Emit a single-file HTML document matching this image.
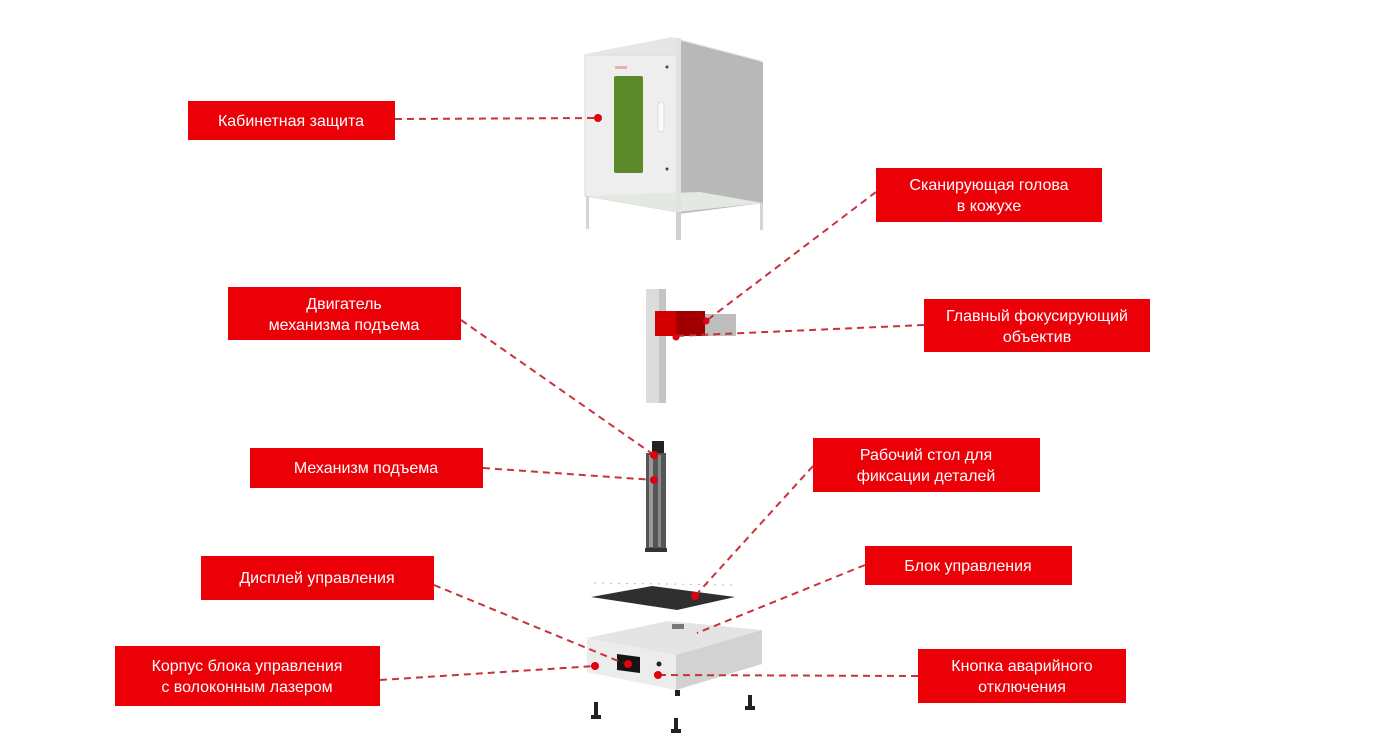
<!DOCTYPE html>
<html><head><meta charset="utf-8"><style>
html,body{margin:0;padding:0;background:#fff;width:1380px;height:755px;overflow:hidden}
svg{display:block}
text{font-family:"Liberation Sans",sans-serif;font-size:16px;fill:#fff;text-anchor:middle}
</style></head><body>
<svg width="1380" height="755" viewBox="0 0 1380 755" xmlns="http://www.w3.org/2000/svg">
<!-- Cabinet -->
<polygon points="585,54 672,37 763,61 678,56" fill="#e6e6e6"/>
<polygon points="678,40 763,62 763,203 678,214" fill="#b8b8b8"/>
<polygon points="585,55 678,55 678,212 585,196" fill="#eeeeee" stroke="#dadada"/>
<polygon points="585,196 678,212 763,203 700,192" fill="#e3e8e1"/>
<rect x="676" y="38" width="5" height="180" fill="#e2e2e2"/>
<rect x="614" y="76" width="29" height="97" rx="2" fill="#5c8a2a"/>
<rect x="658" y="102" width="6" height="30" rx="3" fill="#fafafa" stroke="#ddd"/>
<rect x="615" y="66" width="12" height="3" fill="#e9b0b0"/>
<rect x="586" y="196" width="3" height="33" fill="#d5d5d5"/>
<rect x="760" y="203" width="3" height="27" fill="#d5d5d5"/>
<rect x="676" y="212" width="5" height="28" fill="#d0d0d0"/>
<circle cx="667" cy="67" r="1.5" fill="#444"/><circle cx="667" cy="169" r="1.5" fill="#444"/>
<!-- Column with head -->
<rect x="646" y="289" width="20" height="114" fill="#dcdcdc"/>
<rect x="659" y="289" width="7" height="114" fill="#c4c4c4"/>
<polygon points="655,311 705,311 705,336 655,336" fill="#d40000"/>
<rect x="676" y="311" width="29" height="25" fill="#a00000"/>
<rect x="705" y="314" width="31" height="22" fill="#bdbdbd"/>
<!-- Lift mechanism -->
<rect x="652" y="441" width="12" height="15" fill="#222"/>
<rect x="646" y="453" width="20" height="97" fill="#555"/>
<rect x="649" y="455" width="4" height="92" fill="#999"/>
<rect x="658" y="455" width="3" height="92" fill="#888"/>
<rect x="645" y="548" width="22" height="4" fill="#333"/>
<!-- Table -->
<polygon points="591,597 652,586 735,597 677,610" fill="#2f2f2f"/>
<line x1="594" y1="583" x2="735" y2="585" stroke="#bbb" stroke-dasharray="2,6"/>
<!-- Base -->
<polygon points="587,638 668,621 762,630 676,655" fill="#e4e4e4"/>
<polygon points="587,638 676,655 676,690 587,672" fill="#ececec"/>
<polygon points="676,655 762,630 762,664 676,690" fill="#d2d2d2"/>
<rect x="672" y="624" width="12" height="5" fill="#777"/>
<polygon points="617,654 640,657 640,673 617,670" fill="#151515"/>
<circle cx="659" cy="664" r="2.5" fill="#222"/>
<g fill="#222"><rect x="594" y="702" width="4" height="16"/><rect x="591" y="715" width="10" height="4"/>
<rect x="674" y="718" width="4" height="14"/><rect x="671" y="729" width="10" height="4"/>
<rect x="748" y="695" width="4" height="14"/><rect x="745" y="706" width="10" height="4"/>
<rect x="675" y="690" width="5" height="6"/></g>
<!-- connectors -->
<g stroke="#c8323c" stroke-width="2" stroke-dasharray="7,5" fill="none">
<line x1="395" y1="119" x2="598" y2="118"/>
<line x1="876" y1="192" x2="706" y2="321"/>
<line x1="461" y1="320" x2="654" y2="455"/>
<line x1="924" y1="325" x2="676" y2="336"/>
<line x1="483" y1="468" x2="654" y2="480"/>
<line x1="813" y1="466" x2="695" y2="596"/>
<line x1="865" y1="565" x2="697" y2="633"/>
<line x1="434" y1="585" x2="623" y2="663"/>
<line x1="380" y1="680" x2="595" y2="666"/>
<line x1="918" y1="676" x2="658" y2="675"/>
</g>
<g fill="#e00010">
<circle cx="598" cy="118" r="4"/><circle cx="706" cy="321" r="3.5"/><circle cx="654" cy="455" r="4"/>
<circle cx="676" cy="337" r="3.5"/><circle cx="654" cy="480" r="4"/><circle cx="695" cy="596" r="4"/>
<circle cx="628" cy="664" r="4"/><circle cx="595" cy="666" r="4"/><circle cx="658" cy="675" r="4"/>
</g>
<!-- labels -->
<g fill="#ec0008">
<rect x="188" y="101" width="207" height="39"/>
<rect x="876" y="168" width="226" height="54"/>
<rect x="228" y="287" width="233" height="53"/>
<rect x="924" y="299" width="226" height="53"/>
<rect x="250" y="448" width="233" height="40"/>
<rect x="813" y="438" width="227" height="54"/>
<rect x="865" y="546" width="207" height="39"/>
<rect x="201" y="556" width="233" height="44"/>
<rect x="115" y="646" width="265" height="60"/>
<rect x="918" y="649" width="208" height="54"/>
</g>
<text x="291" y="126">Кабинетная защита</text>
<text x="989" y="190">Сканирующая голова</text><text x="989" y="211">в кожухе</text>
<text x="344" y="309">Двигатель</text><text x="344" y="330">механизма подъема</text>
<text x="1037" y="321">Главный фокусирующий</text><text x="1037" y="342">объектив</text>
<text x="366" y="473">Механизм подъема</text>
<text x="926" y="460">Рабочий стол для</text><text x="926" y="481">фиксации деталей</text>
<text x="968" y="571">Блок управления</text>
<text x="317" y="583">Дисплей управления</text>
<text x="247" y="671">Корпус блока управления</text><text x="247" y="692">с волоконным лазером</text>
<text x="1022" y="671">Кнопка аварийного</text><text x="1022" y="692">отключения</text>
</svg>
</body></html>
